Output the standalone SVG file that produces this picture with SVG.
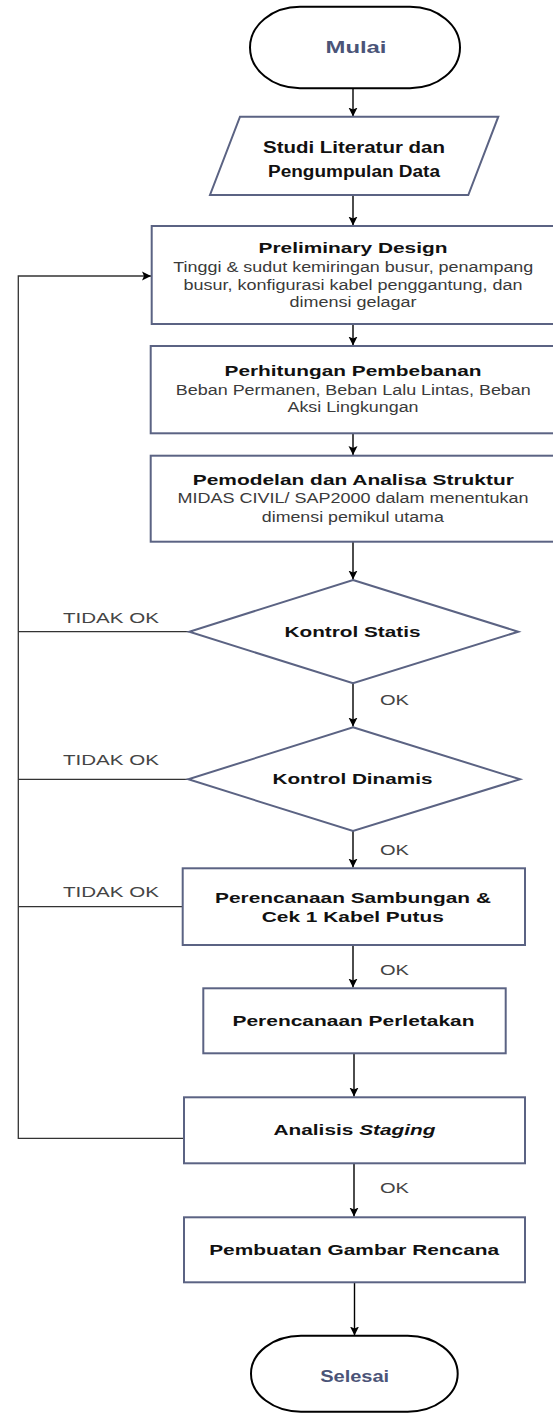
<svg xmlns="http://www.w3.org/2000/svg" width="553" height="1413" viewBox="0 0 553 1413">
<style>
.bg{fill:#ffffff}
.node{fill:#ffffff;stroke:#5b6383;stroke-width:2}
.term{fill:#ffffff;stroke:#000000;stroke-width:2}
.title{font-family:"Liberation Sans",Arial,sans-serif;font-weight:bold;font-size:15px;fill:#111111;text-anchor:middle}
.sub{font-family:"Liberation Sans",Arial,sans-serif;font-size:14px;fill:#3a3a3a;text-anchor:middle}
.tt{font-family:"Liberation Sans",Arial,sans-serif;font-weight:bold;font-size:16px;fill:#4b5478;text-anchor:middle}
.lbl{font-family:"Liberation Sans",Arial,sans-serif;font-size:14px;fill:#444444}
.flow{fill:none;stroke:#000000;stroke-width:1.4}
.loop{fill:none;stroke:#333333;stroke-width:1.3}
</style>
<defs>
<marker id="arr" markerUnits="userSpaceOnUse" markerWidth="10" markerHeight="10" refX="9" refY="5" orient="auto" viewBox="0 0 10 10">
<path d="M0,0.5 L9,5 L0,9.5 L2,5 Z" fill="#000000"/>
</marker>
</defs>
<rect class="bg" x="0" y="0" width="553" height="1413"/>

<g id="connectors">
<line class="flow" x1="353" y1="88.5" x2="353" y2="116.5" marker-end="url(#arr)"/>
<line class="flow" x1="353" y1="195" x2="353" y2="225.5" marker-end="url(#arr)"/>
<line class="flow" x1="353" y1="324" x2="353" y2="345.5" marker-end="url(#arr)"/>
<line class="flow" x1="353" y1="433.5" x2="353" y2="455" marker-end="url(#arr)"/>
<line class="flow" x1="353" y1="541.5" x2="353" y2="579.5" marker-end="url(#arr)"/>
<line class="flow" x1="353" y1="683.5" x2="353" y2="726.5" marker-end="url(#arr)"/>
<line class="flow" x1="353" y1="831" x2="353" y2="867.5" marker-end="url(#arr)"/>
<line class="flow" x1="353" y1="945" x2="353" y2="987.5" marker-end="url(#arr)"/>
<line class="flow" x1="354" y1="1053.5" x2="354" y2="1096.5" marker-end="url(#arr)"/>
<line class="flow" x1="354" y1="1163.5" x2="354" y2="1216.5" marker-end="url(#arr)"/>
<line class="flow" x1="354.5" y1="1282.5" x2="354.5" y2="1335.5" marker-end="url(#arr)"/>
<line class="loop" x1="189" y1="631.7" x2="18.3" y2="631.7"/>
<line class="loop" x1="188" y1="779.3" x2="18.3" y2="779.3"/>
<line class="loop" x1="182.7" y1="906.7" x2="18.3" y2="906.7"/>
<polyline class="loop" points="184,1138.3 18.3,1138.3 18.3,276 151,276" marker-end="url(#arr)"/>
<text class="lbl" x="380" y="705" textLength="29" lengthAdjust="spacingAndGlyphs">OK</text>
<text class="lbl" x="380" y="855" textLength="29" lengthAdjust="spacingAndGlyphs">OK</text>
<text class="lbl" x="380" y="975" textLength="29" lengthAdjust="spacingAndGlyphs">OK</text>
<text class="lbl" x="380" y="1192.5" textLength="29" lengthAdjust="spacingAndGlyphs">OK</text>
<text class="lbl" x="63" y="622.5" textLength="96" lengthAdjust="spacingAndGlyphs">TIDAK OK</text>
<text class="lbl" x="63" y="765" textLength="96" lengthAdjust="spacingAndGlyphs">TIDAK OK</text>
<text class="lbl" x="63" y="896.7" textLength="96" lengthAdjust="spacingAndGlyphs">TIDAK OK</text>
</g>

<g id="mulai">
<rect class="term" x="250" y="6.7" width="210" height="81.6" rx="50" ry="40.8"/>
<text class="tt" x="356" y="53" textLength="61" lengthAdjust="spacingAndGlyphs">Mulai</text>
</g>

<g id="studi">
<polygon class="node" points="240,116.7 498.3,116.7 468.3,195 210,195"/>
<text class="title" style="font-size:16px" x="354" y="153" textLength="182" lengthAdjust="spacingAndGlyphs">Studi Literatur dan</text>
<text class="title" style="font-size:16px" x="354" y="177" textLength="172" lengthAdjust="spacingAndGlyphs">Pengumpulan Data</text>
</g>

<g id="preliminary">
<rect class="node" x="151.7" y="226" width="405" height="98"/>
<text class="title" x="353" y="253" textLength="189" lengthAdjust="spacingAndGlyphs">Preliminary Design</text>
<text class="sub" x="353.3" y="272" textLength="360" lengthAdjust="spacingAndGlyphs">Tinggi &amp; sudut kemiringan busur, penampang</text>
<text class="sub" x="353" y="290" textLength="339" lengthAdjust="spacingAndGlyphs">busur, konfigurasi kabel penggantung, dan</text>
<text class="sub" x="353" y="306.5" textLength="127" lengthAdjust="spacingAndGlyphs">dimensi gelagar</text>
</g>

<g id="perhitungan">
<rect class="node" x="150.7" y="346" width="406" height="87.3"/>
<text class="title" x="353" y="375.5" textLength="257" lengthAdjust="spacingAndGlyphs">Perhitungan Pembebanan</text>
<text class="sub" x="353.3" y="395" textLength="355" lengthAdjust="spacingAndGlyphs">Beban Permanen, Beban Lalu Lintas, Beban</text>
<text class="sub" x="353" y="412.3" textLength="131" lengthAdjust="spacingAndGlyphs">Aksi Lingkungan</text>
</g>

<g id="pemodelan">
<rect class="node" x="150.7" y="455.7" width="406" height="86"/>
<text class="title" x="353.3" y="485" textLength="321" lengthAdjust="spacingAndGlyphs">Pemodelan dan Analisa Struktur</text>
<text class="sub" x="353" y="503.3" textLength="351" lengthAdjust="spacingAndGlyphs">MIDAS CIVIL/ SAP2000 dalam menentukan</text>
<text class="sub" x="352.8" y="521.7" textLength="182" lengthAdjust="spacingAndGlyphs">dimensi pemikul utama</text>
</g>

<g id="kontrol-statis">
<polygon class="node" points="353,580 518.3,631.7 353,683.3 189.3,631.7"/>
<text class="title" x="352.5" y="636.7" textLength="136" lengthAdjust="spacingAndGlyphs">Kontrol Statis</text>
</g>

<g id="kontrol-dinamis">
<polygon class="node" points="353,727.3 520,779.3 353,831 188.3,779.3"/>
<text class="title" x="352.5" y="784.3" textLength="160" lengthAdjust="spacingAndGlyphs">Kontrol Dinamis</text>
</g>

<g id="sambungan">
<rect class="node" x="182.7" y="868.3" width="342.3" height="76.7"/>
<text class="title" x="353" y="903.3" textLength="276" lengthAdjust="spacingAndGlyphs">Perencanaan Sambungan &amp;</text>
<text class="title" x="352.8" y="921.7" textLength="182" lengthAdjust="spacingAndGlyphs">Cek 1 Kabel Putus</text>
</g>

<g id="perletakan">
<rect class="node" x="203.3" y="988.3" width="302.4" height="65"/>
<text class="title" x="353.5" y="1026" textLength="242" lengthAdjust="spacingAndGlyphs">Perencanaan Perletakan</text>
</g>

<g id="analisis-staging">
<rect class="node" x="184" y="1097.3" width="341" height="66"/>
<text class="title" x="354.5" y="1135" textLength="162" lengthAdjust="spacingAndGlyphs">Analisis <tspan font-style="italic">Staging</tspan></text>
</g>

<g id="gambar-rencana">
<rect class="node" x="184" y="1217.3" width="341" height="65"/>
<text class="title" x="354.2" y="1255" textLength="290" lengthAdjust="spacingAndGlyphs">Pembuatan Gambar Rencana</text>
</g>

<g id="selesai">
<rect class="term" x="251" y="1335.7" width="206.7" height="76" rx="50" ry="38"/>
<text class="tt" x="354.7" y="1381.7" textLength="69" lengthAdjust="spacingAndGlyphs">Selesai</text>
</g>
</svg>
